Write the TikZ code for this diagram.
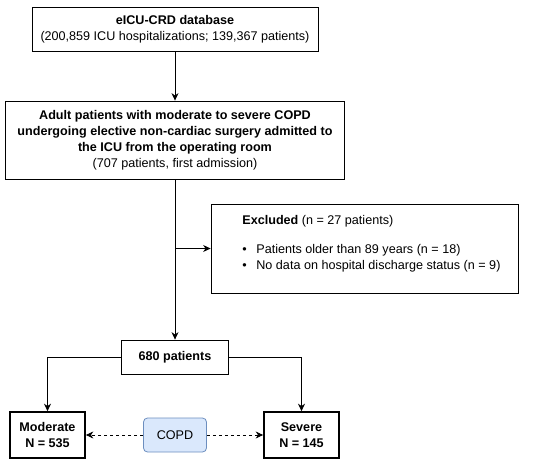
\documentclass[tikz,border=0pt]{standalone}
\usepackage{fontspec}
\setmainfont{Liberation Sans}
\usetikzlibrary{arrows.meta,positioning}
\definecolor{copdfill}{HTML}{DAE8FC}
\definecolor{copdline}{HTML}{6C8EBF}
\newcommand{\flowfont}{\fontsize{12.6}{16}\selectfont}
\tikzset{
  box/.style={draw,rectangle,align=center,inner sep=0pt},
  group/.style={draw,rectangle,line width=1.7pt,align=center,inner sep=0pt,font=\flowfont\bfseries},
  tag/.style={draw=copdline,fill=copdfill,rounded corners=4pt,minimum width=63pt,minimum height=34pt},
  link/.style={-{Stealth[length=7.5pt,width=7pt]}}
}
\begin{document}
\begin{tikzpicture}[x=1pt,y=-1pt,line width=0.8pt,font=\flowfont]
  \useasboundingbox (0,0) rectangle (550,463);

  \node[box,minimum width=286pt,minimum height=44pt] (db) at (175,29)
    {\textbf{eICU-CRD database}\\(200,859 ICU hospitalizations; 139,367 patients)};
  \node[box,minimum width=339pt,minimum height=78pt] (cohort) at (175,140)
    {\textbf{Adult patients with moderate to severe COPD}\\
     \textbf{undergoing elective non-cardiac surgery admitted to}\\
     \textbf{the ICU from the operating room}\\(707 patients, first admission)};
  \node[box,minimum width=307pt,minimum height=89pt] (excl) at (364.5,248.5) {};
  \node[anchor=north west,align=left,inner sep=0pt] (excltxt) at (242,215)
    {\textbf{Excluded} (n = 27 patients)\\[13pt]
     \makebox[14pt][l]{\textbullet}Patients older than 89 years (n = 18)\\
     \makebox[14pt][l]{\textbullet}No data on hospital discharge status (n = 9)};
  \node[box,minimum width=107pt,minimum height=34pt,font=\flowfont\bfseries] (total) at (175,357) {680 patients};
  \node[group,minimum width=75pt,minimum height=46pt] (moderate) at (47.5,435) {Moderate\\N = 535};
  \node[group,minimum width=75pt,minimum height=46pt] (severe) at (301.5,435) {Severe\\N = 145};
  \node[tag] (copd) at (175,435) {COPD};

  % main flow
  \draw[link] (db) -- (cohort);
  \draw[link] (cohort) -- (total);
  \draw[link] (cohort.south |- excl.west) -- (excl.west);

  % split by severity
  \draw[link] (total.west) -| (moderate.north);
  \draw[link] (total.east) -| (severe.north);
  \draw[link,dashed] (copd) -- (moderate);
  \draw[link,dashed] (copd) -- (severe);
\end{tikzpicture}
\end{document}
